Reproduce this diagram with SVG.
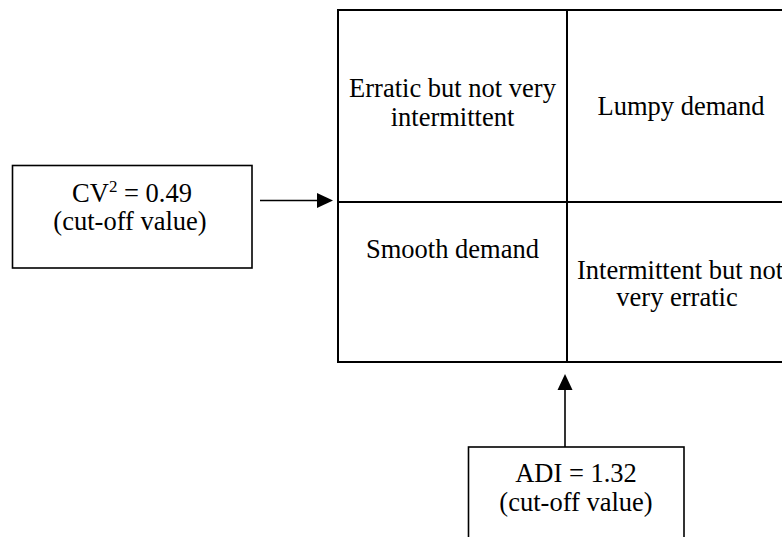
<svg xmlns="http://www.w3.org/2000/svg" width="782" height="537" viewBox="0 0 782 537">
  <defs>
    <style>
      .t { font-family: "Liberation Serif", "Times New Roman", serif; font-size: 26.5px; fill: #000; text-anchor: middle; }
      .box { fill: #fff; stroke: #000; stroke-width: 1.6; }
      .grid { fill: none; stroke: #000; stroke-width: 2; }
      .conn { stroke: #000; stroke-width: 1.6; fill: none; }
      .head { fill: #000; stroke: none; }
    </style>
  </defs>
  <rect x="0" y="0" width="782" height="537" fill="#fff"/>

  <g id="matrix">
    <rect class="grid" x="338" y="10" width="460" height="352"/>
    <line class="grid" x1="567" y1="10" x2="567" y2="362"/>
    <line class="grid" x1="338" y1="202" x2="798" y2="202"/>
  </g>

  <g id="cell-erratic">
    <text class="t" x="452.5" y="97">Erratic but not very</text>
    <text class="t" x="452.5" y="126">intermittent</text>
  </g>
  <g id="cell-lumpy">
    <text class="t" x="681" y="115">Lumpy demand</text>
  </g>
  <g id="cell-smooth">
    <text class="t" x="452.5" y="258">Smooth demand</text>
  </g>
  <g id="cell-intermittent">
    <text class="t" x="680" y="279">Intermittent but not</text>
    <text class="t" x="677" y="306">very erratic</text>
  </g>

  <g id="cv-box">
    <rect class="box" x="12.5" y="165.5" width="239.5" height="102.5"/>
    <text class="t" x="132" y="202">CV<tspan font-size="17" dy="-10">2</tspan><tspan dy="10"> = 0.49</tspan></text>
    <text class="t" x="130" y="230">(cut-off value)</text>
  </g>

  <g id="adi-box">
    <rect class="box" x="468.5" y="447" width="215.5" height="100"/>
    <text class="t" x="576" y="482">ADI = 1.32</text>
    <text class="t" x="576" y="511">(cut-off value)</text>
  </g>

  <g id="connectors">
    <line class="conn" x1="260" y1="200.5" x2="318" y2="200.5"/>
    <polygon class="head" points="317,193 333,200.5 317,208"/>
    <line class="conn" x1="565" y1="447" x2="565" y2="388"/>
    <polygon class="head" points="557.5,390 565,374 572.5,390"/>
  </g>
</svg>
